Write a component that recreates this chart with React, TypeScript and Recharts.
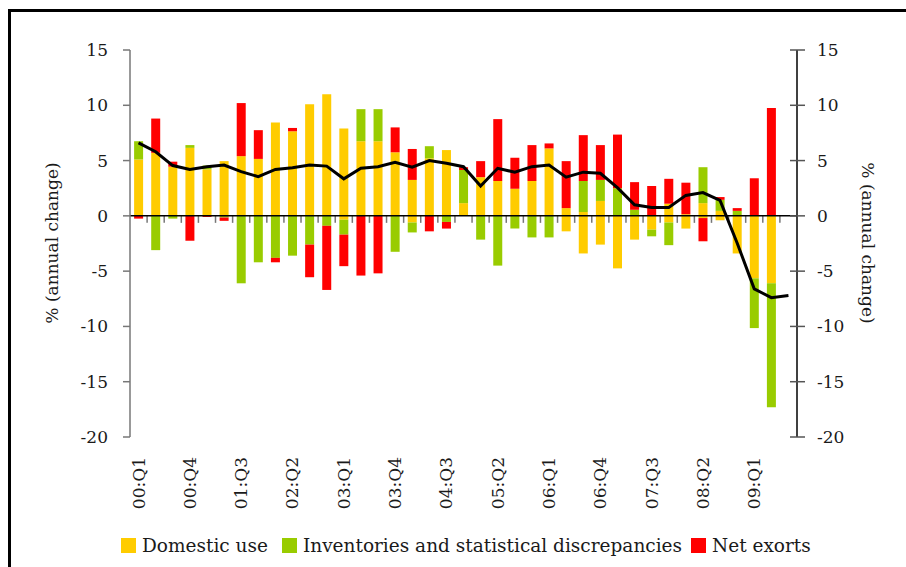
import {
  Bar,
  ComposedChart,
  Line,
  ReferenceLine,
  XAxis,
  YAxis,
} from "recharts";

const quarters = [
  "00:Q1", "00:Q2", "00:Q3", "00:Q4",
  "01:Q1", "01:Q2", "01:Q3", "01:Q4",
  "02:Q1", "02:Q2", "02:Q3", "02:Q4",
  "03:Q1", "03:Q2", "03:Q3", "03:Q4",
  "04:Q1", "04:Q2", "04:Q3", "04:Q4",
  "05:Q1", "05:Q2", "05:Q3", "05:Q4",
  "06:Q1", "06:Q2", "06:Q3", "06:Q4",
  "07:Q1", "07:Q2", "07:Q3", "07:Q4",
  "08:Q1", "08:Q2", "08:Q3", "08:Q4",
  "09:Q1", "09:Q2", "09:Q3",
];

// domestic use is drawn in two yellow pieces in the source (one above, one below zero)
const domesticUse = [
  5.1, 5.7, 4.45, 6.15, 4.2, 4.95, 5.4, 5.15, 8.45, 7.65, 10.1, 11.0,
  7.9, 6.75, 6.75, 5.75, 3.25, 5.2, 5.95, 1.15, 3.5, 3.15, 2.45, 3.15,
  6.1, 0.7, 0.35, 1.35, -4.75, -2.15, -1.25, 1.1, 0.15, 1.15, 0.45, -3.4,
  -5.65, -6.1, null,
];
const domesticUseLower = [
  0, 0, 0, 0, 0, 0, 0, 0, 0, 0, 0, 0,
  -0.35, 0, 0, 0, -0.6, 0, 0, 0, 0, 0, 0, 0,
  0, -1.4, -3.4, -2.6, 0, 0, 0, -0.6, -1.15, -0.2, -0.4, 0,
  0, 0, null,
];
const inventories = [
  1.65, -3.1, -0.25, 0.25, 0.35, -0.15, -6.1, -4.2, -3.8, -3.6, -2.6, -0.9,
  -1.35, 2.9, 2.9, -3.25, -0.9, 1.1, -0.55, 3.0, -2.15, -4.5, -1.15, -1.95,
  -1.95, 0, 2.8, 1.9, 2.5, 0.55, -0.6, -2.05, 0, 3.25, 1.0, 0.45,
  -4.5, -11.2, null,
];
const netExports = [
  -0.25, 3.1, 0.45, -2.25, -0.1, -0.3, 4.8, 2.6, -0.4, 0.3, -2.95, -5.8,
  -2.85, -5.4, -5.2, 2.25, 2.8, -1.4, -0.6, 0.25, 1.45, 5.6, 2.8, 3.25,
  0.45, 4.25, 4.15, 3.15, 4.85, 2.5, 2.7, 2.25, 2.85, -2.1, 0.25, 0.25,
  3.4, 9.75, null,
];
const gdpGrowth = [
  6.6, 5.8, 4.55, 4.2, 4.45, 4.6, 4.0, 3.55, 4.2, 4.35, 4.6, 4.5,
  3.35, 4.3, 4.45, 4.85, 4.4, 5.0, 4.75, 4.45, 2.7, 4.3, 3.95, 4.45,
  4.6, 3.5, 3.95, 3.85, 2.55, 1.0, 0.75, 0.75, 1.85, 2.1, 1.4, -2.45,
  -6.6, -7.4, -7.2,
];
const yTicks = [-20, -15, -10, -5, 0, 5, 10, 15];

const YELLOW = "#FFCC00";
const GREEN = "#99CC00";
const RED = "#FF0000";
const FONT = "'DejaVu Serif', 'Liberation Serif', serif";
const TEXT = "#1a1a1a";

const chartData = quarters.map((quarter, i) => ({
  quarter,
  domestic: domesticUse[i],
  domesticLower: domesticUseLower[i],
  inventories: inventories[i],
  netExports: netExports[i],
  gdp: gdpGrowth[i],
}));

function QuarterTick({ x, y, payload }: any) {
  return (
    <text
      transform={`translate(${x},${y + 20}) rotate(-90)`}
      textAnchor="end"
      dy="0.35em"
      fill={TEXT}
      fontFamily={FONT}
      fontSize={17}
    >
      {payload.value}
    </text>
  );
}

function LeftTick({ x, y, payload }: any) {
  return (
    <g>
      <line x1={x - 7} y1={y} x2={x} y2={y} stroke="#777" strokeWidth={1.5} />
      <text x={x - 22} y={y} dy="0.35em" textAnchor="end" fill={TEXT} fontFamily={FONT} fontSize={17}>
        {payload.value}
      </text>
    </g>
  );
}

function RightTick({ x, y, payload }: any) {
  return (
    <g>
      <line x1={x - 7} y1={y} x2={x + 8} y2={y} stroke="#555" strokeWidth={1.5} />
      <text x={x + 20} y={y} dy="0.35em" textAnchor="start" fill={TEXT} fontFamily={FONT} fontSize={17}>
        {payload.value}
      </text>
    </g>
  );
}

// zero axis with small category ticks hanging below it
function ZeroAxis(props: any) {
  const { x1, x2, y1 } = props;
  const step = (x2 - x1) / quarters.length;
  return (
    <g>
      {quarters.slice(1).map((q, i) => (
        <line
          key={q}
          x1={x1 + step * (i + 1)}
          x2={x1 + step * (i + 1)}
          y1={y1}
          y2={y1 + 7}
          stroke="#777"
          strokeWidth={1.5}
        />
      ))}
      <line x1={x1} x2={x2} y1={y1} y2={y1} stroke="#000" strokeWidth={1.5} />
    </g>
  );
}

const legendItems = [
  { label: "Domestic use", color: YELLOW, gap: 14 },
  { label: "Inventories and statistical discrepancies", color: GREEN, gap: 9 },
  { label: "Net exorts", color: RED, gap: 0 },
];

const axisTitle: React.CSSProperties = {
  position: "absolute",
  top: 243,
  whiteSpace: "nowrap",
  fontFamily: FONT,
  fontSize: 17,
  color: TEXT,
};

export default function App() {
  return (
    <div
      style={{
        position: "fixed",
        left: 0,
        top: 0,
        width: 906,
        height: 567,
        overflow: "hidden",
        background: "#fff",
      }}
    >
      <div
        style={{
          position: "absolute",
          left: 8,
          top: 9,
          width: 960,
          height: 620,
          border: "3px solid #000",
        }}
      />
      <ComposedChart
        width={906}
        height={567}
        data={chartData}
        stackOffset="sign"
        barCategoryGap="24%"
        margin={{ top: 50, right: 29, bottom: 50, left: 50 }}
        style={{ position: "absolute", left: 0, top: 0 }}
      >
        <XAxis
          dataKey="quarter"
          interval={2}
          axisLine={false}
          tickLine={false}
          tickSize={0}
          tickMargin={0}
          height={80}
          tick={<QuarterTick />}
        />
        <YAxis
          yAxisId="left"
          domain={[-20, 15]}
          ticks={yTicks}
          interval={0}
          width={80}
          axisLine={{ stroke: "#777", strokeWidth: 1.5 }}
          tickLine={false}
          tickSize={0}
          tickMargin={0}
          tick={<LeftTick />}
        />
        <YAxis
          yAxisId="right"
          orientation="right"
          domain={[-20, 15]}
          ticks={yTicks}
          interval={0}
          width={80}
          axisLine={{ stroke: "#000", strokeWidth: 1.5 }}
          tickLine={false}
          tickSize={0}
          tickMargin={0}
          tick={<RightTick />}
        />
        <Bar yAxisId="left" dataKey="domestic" stackId="a" fill={YELLOW} isAnimationActive={false} />
        <Bar yAxisId="left" dataKey="domesticLower" stackId="a" fill={YELLOW} isAnimationActive={false} />
        <Bar yAxisId="left" dataKey="inventories" stackId="a" fill={GREEN} isAnimationActive={false} />
        <Bar yAxisId="left" dataKey="netExports" stackId="a" fill={RED} isAnimationActive={false} />
        <ReferenceLine yAxisId="left" y={0} shape={<ZeroAxis />} />
        <Line
          yAxisId="right"
          type="linear"
          dataKey="gdp"
          stroke="#000"
          strokeWidth={3}
          dot={false}
          isAnimationActive={false}
        />
      </ComposedChart>
      <div style={{ ...axisTitle, left: 52, transform: "translate(-50%, -50%) rotate(-90deg)" }}>
        % (annual change)
      </div>
      <div style={{ ...axisTitle, left: 868, transform: "translate(-50%, -50%) rotate(90deg)" }}>
        % (annual change)
      </div>
      <div
        style={{
          position: "absolute",
          left: 121,
          top: 535,
          display: "flex",
          alignItems: "center",
          fontFamily: FONT,
          fontSize: 18.5,
          color: TEXT,
          whiteSpace: "nowrap",
        }}
      >
        {legendItems.map((item) => (
          <div key={item.label} style={{ display: "flex", alignItems: "center", marginRight: item.gap }}>
            <span style={{ width: 15, height: 15, background: item.color, marginRight: 6 }} />
            <span>{item.label}</span>
          </div>
        ))}
      </div>
    </div>
  );
}
